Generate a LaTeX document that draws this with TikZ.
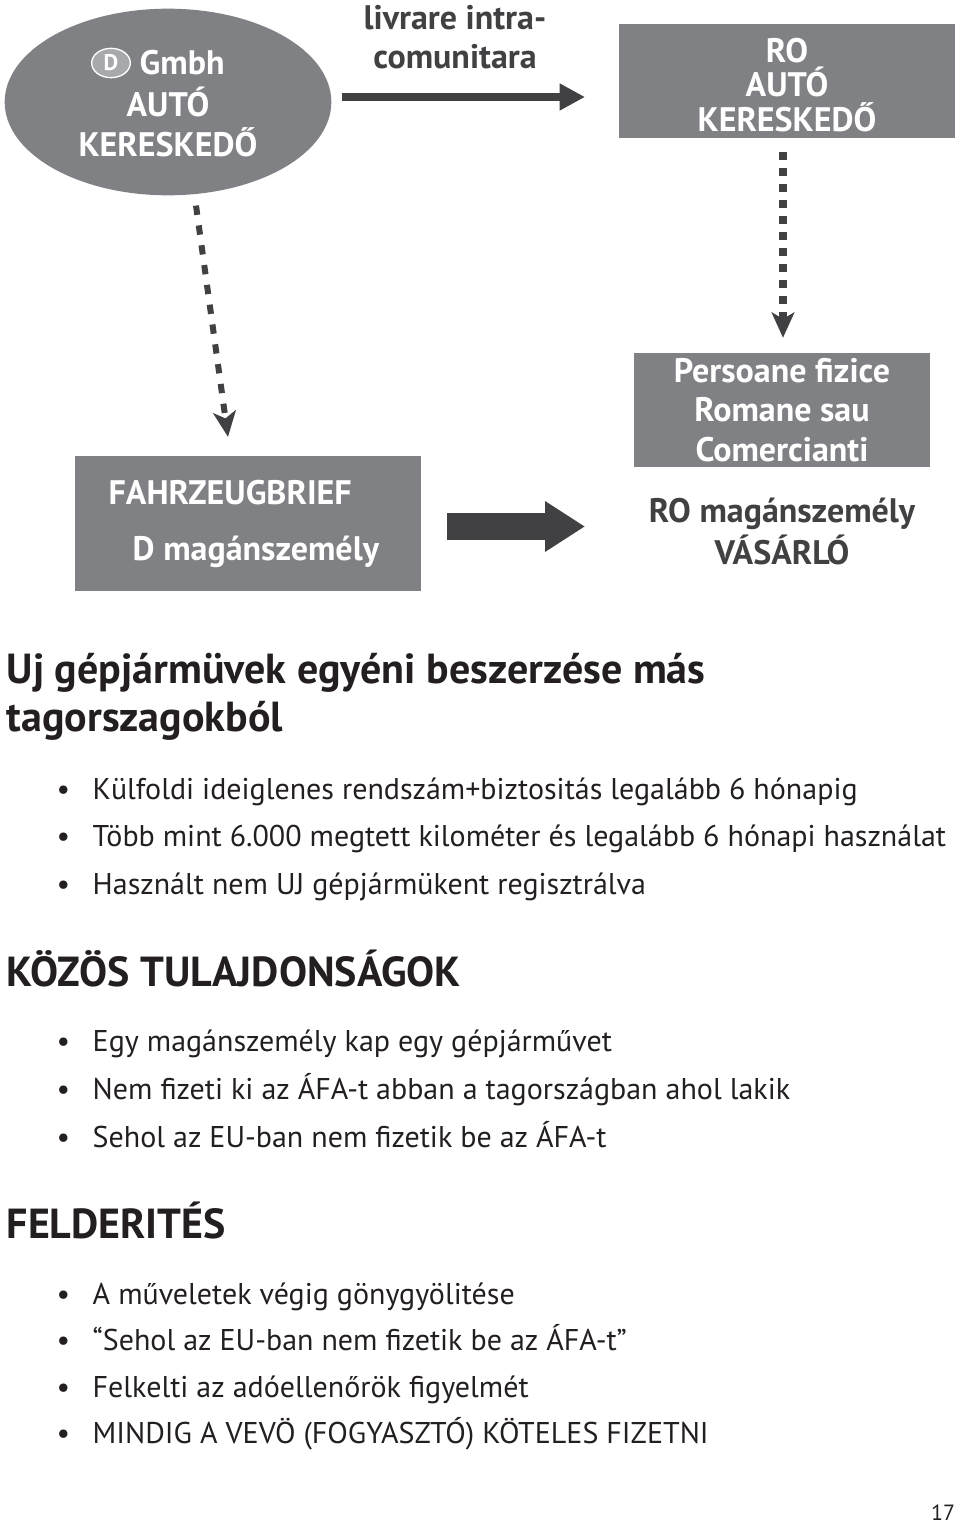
\documentclass[tikz,border=0pt]{standalone}
\usepackage{fontspec}
\setmainfont{PT Sans}
\usepackage{xcolor}
\definecolor{boxgray}{HTML}{808184}
\definecolor{badgegray}{HTML}{A7A9AC}
\definecolor{ink}{HTML}{231F20}
\definecolor{arrowgray}{HTML}{414042}
\usetikzlibrary{arrows.meta,shapes.geometric}
\lineskiplimit=-100pt

\begin{document}
\begin{tikzpicture}[x=0.75pt, y=-0.75pt,
    boxtext/.style={text=white, font=\bfseries\fontsize{25.5}{29.5}\selectfont, align=center},
    darktext/.style={text=arrowgray, font=\bfseries\fontsize{25.5}{29.5}\selectfont, align=center},
    grayblock/.style={fill=boxgray, inner sep=0pt},
    heading/.style={anchor=base west, text=ink, font=\bfseries\fontsize{31.5}{36}\selectfont},
    item/.style={anchor=base west, text=ink, font=\fontsize{22.5}{26}\selectfont},
    dotarrow/.style={arrowgray, line width=6pt, dash pattern=on 5.5pt off 6.5pt,
        -{Stealth[length=19pt, width=17pt, inset=5pt]}}]
    \useasboundingbox (0,0) rectangle (960,1526);

    % German dealer
    \node[ellipse, grayblock, minimum width=245pt, minimum height=140pt] (dealerD) at (168,102) {};
    \node[ellipse, fill=badgegray, draw=white, line width=1pt, inner sep=0pt,
        minimum width=29pt, minimum height=22pt, text=white, font=\bfseries\fontsize{17}{17}\selectfont]
        (badgeD) at (111,63) {D};
    \node[boxtext, anchor=west] (gmbh) at (135,63) {Gmbh};
    \node[boxtext] (dealerDtxt) at (168,122) {AUTÓ\\KERESKEDŐ};

    % Romanian dealer
    \node[grayblock, minimum width=252pt, minimum height=85.5pt] (dealerRO) at (787,81) {};
    \node[boxtext, font=\bfseries\fontsize{25.5}{26}\selectfont] (dealerROtxt) at (787,85)
        {RO\\AUTÓ\\KERESKEDŐ};
    \node[darktext] (deliv) at (455,37) {livrare intra-\\comunitara};

    % buyers
    \node[grayblock, minimum width=222pt, minimum height=85.5pt, boxtext] (buyerbox) at (782,410)
        {Persoane fizice\\Romane sau\\Comercianti};
    \node[darktext, font=\bfseries\fontsize{25.5}{31.5}\selectfont] (buyerRO) at (782,531) {RO magánszemély\\VÁSÁRLÓ};

    \node[grayblock, minimum width=259.5pt, minimum height=101pt] (briefD) at (248,523.5) {};
    \node[boxtext, anchor=west] (briefA) at (104,493) {FAHRZEUGBRIEF};
    \node[boxtext, anchor=west] (briefB) at (128,552) {D magánszemély};

    % arrows
    \coordinate (delivTip) at (585,97);
    \coordinate (bigTip) at (585,526.5);
    \draw[arrowgray, line width=6pt, -{Triangle[length=19pt, width=19pt]}]
        ([shift={(10,-5)}]dealerD.east) -- (delivTip);
    \draw[dotarrow, line width=4.5pt, dash pattern=on 7pt off 8pt]
        ([shift={(28,10)}]dealerD.south) -- ([shift={(-20,-19)}]briefD.north);
    \draw[dotarrow] ([shift={(-4,14)}]dealerRO.south) -- ([shift={(1,-15)}]buyerbox.north);
    \draw[arrowgray, line width=20pt, -{Triangle[length=30pt, width=36pt]}]
        ([shift={(26,3)}]briefD.east) -- (bigTip);

    % text part
    \node[heading, align=left] (headNew) at (2,731)
        {Uj gépjármüvek egyéni beszerzése más\\tagorszagokból};
    \foreach \txt [count=\i] in {Külfoldi ideiglenes rendszám+biztositás legalább 6 hónapig,
        Több mint 6.000 megtett kilométer és legalább 6 hónapi használat,
        Használt nem UJ gépjármükent regisztrálva}
        \node[item] (newItem\i) at (52,{799+47.5*(\i-1)}) {\makebox[27pt][l]{•}\txt};

    \node[heading] (headCommon) at (2,986) {KÖZÖS TULAJDONSÁGOK};
    \foreach \txt [count=\i] in {Egy magánszemély kap egy gépjárművet,
        Nem fizeti ki az ÁFA-t abban a tagországban ahol lakik,
        Sehol az EU-ban nem fizetik be az ÁFA-t}
        \node[item] (commonItem\i) at (52,{1051+48*(\i-1)}) {\makebox[27pt][l]{•}\txt};

    \node[heading] (headFind) at (2,1238) {FELDERITÉS};
    \foreach \txt [count=\i] in {A műveletek végig gönygyölitése,
        “Sehol az EU-ban nem fizetik be az ÁFA-t”,
        Felkelti az adóellenőrök figyelmét,
        MINDIG A VEVÖ (FOGYASZTÓ) KÖTELES FIZETNI}
        \node[item] (findItem\i) at (52,{1304+46.5*(\i-1)}) {\makebox[27pt][l]{•}\txt};

    \node[text=ink, font=\fontsize{16.5}{18}\selectfont] (pageNo) at (943,1513) {17};
\end{tikzpicture}
\end{document}
